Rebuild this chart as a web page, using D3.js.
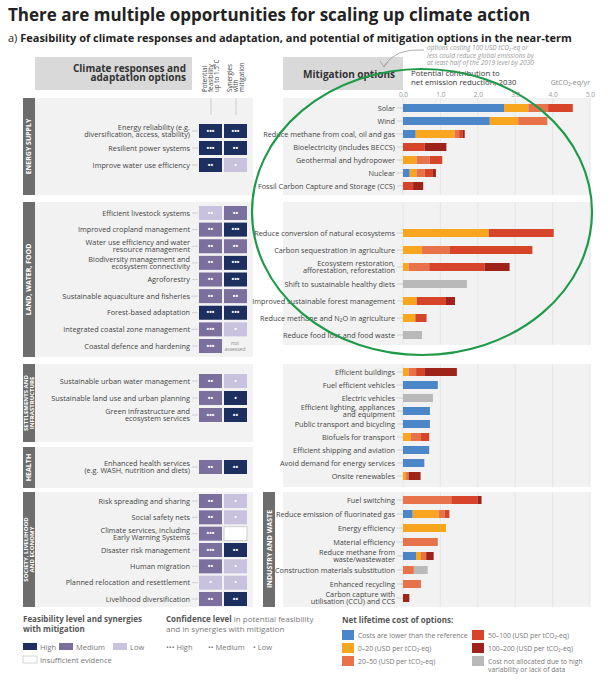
<!DOCTYPE html>
<html><head><meta charset="utf-8">
<script src="https://cdn.jsdelivr.net/npm/d3@7"></script>
<style>
body{margin:0;background:#fff;}
text{font-family:"Liberation Sans Narrow","Open Sans",sans-serif;}
</style></head>
<body><div id="chart"></div>
<script>
// ---- data ----
var costClasses = ["lower", "0-20", "20-50", "50-100", "100-200", "na"];
var costColors = ["#4a86c8", "#f8a51f", "#e8724a", "#d6452a", "#9e2419", "#b9b9b9"];
var costLabels = ["Costs are lower than the reference", "0\u201320 (USD per tCO\u2082-eq)", "20\u201350 (USD per tCO\u2082-eq)",
  "50\u2013100 (USD per tCO\u2082-eq)", "100\u2013200 (USD per tCO\u2082-eq)", "Cost not allocated due to high|variability or lack of data"];

var energyOptions = ["Solar", "Wind", "Reduce methane from coal, oil and gas", "Bioelectricity (includes BECCS)",
  "Geothermal and hydropower", "Nuclear", "Fossil Carbon Capture and Storage (CCS)"];
var energyValues = [
  [2.7, 0.65, 0.53, 0.66, 0, 0], [2.32, 0.76, 0.78, 0, 0, 0], [0.34, 1.04, 0.12, 0.1, 0.05, 0],
  [0, 0, 0, 0.58, 0.58, 0], [0, 0.36, 0.35, 0.34, 0, 0], [0.18, 0.18, 0.22, 0.22, 0.08, 0], [0, 0, 0, 0.27, 0.27, 0]];
var landOptions = ["Reduce conversion of natural ecosystems", "Carbon sequestration in agriculture",
  "Ecosystem restoration,|afforestation, reforestation", "Shift to sustainable healthy diets",
  "Improved sustainable forest management", "Reduce methane and N\u2082O in agriculture", "Reduce food loss and food waste"];
var landValues = [
  [0, 2.29, 0, 1.74, 0, 0], [0, 0.51, 0.73, 2.22, 0, 0], [0, 0.15, 0.55, 1.48, 0.67, 0], [0, 0, 0, 0, 0, 1.71],
  [0, 0.37, 0, 0.78, 0.24, 0], [0, 0.33, 0, 0.3, 0, 0], [0, 0, 0, 0, 0, 0.51]];
var buildOptions = ["Efficient buildings", "Fuel efficient vehicles", "Electric vehicles",
  "Efficient lighting, appliances|and equipment", "Public transport and bicycling", "Biofuels for transport",
  "Efficient shipping and aviation", "Avoid demand for energy services", "Onsite renewables"];
var buildValues = [
  [0, 0.15, 0.2, 0.22, 0.87, 0], [0.93, 0, 0, 0, 0, 0], [0, 0, 0, 0, 0, 0.8], [0.72, 0, 0, 0, 0, 0],
  [0.72, 0, 0, 0, 0, 0], [0, 0.21, 0.27, 0.22, 0, 0], [0.7, 0, 0, 0, 0, 0], [0.57, 0, 0, 0, 0, 0], [0, 0.08, 0.07, 0, 0.32, 0]];
var industryOptions = ["Fuel switching", "Reduce emission of fluorinated gas", "Energy efficiency", "Material efficiency",
  "Reduce methane from|waste/wastewater", "Construction materials substitution", "Enhanced recycling",
  "Carbon capture with|utilisation (CCU) and CCS"];
var industryValues = [
  [0, 0, 1.29, 0.71, 0.1, 0], [0.26, 0.7, 0.15, 0.13, 0, 0], [0, 1.15, 0, 0, 0, 0], [0, 0, 0.93, 0, 0, 0],
  [0.35, 0.13, 0.14, 0, 0.2, 0], [0, 0, 0.29, 0, 0, 0.37], [0, 0, 0.48, 0, 0, 0], [0, 0, 0, 0, 0.17, 0]];
var xTicks = [0, 1, 2, 3, 4, 5];

// feasibility: [level, confidence, level, confidence]  H/M/L, I = insufficient, N = not assessed
var adaptEnergy = ["Energy reliability (e.g.|diversification, access, stability)", "Resilient power systems", "Improve water use efficiency"];
var adaptEnergyFeas = [["H", 3, "H", 3], ["H", 3, "H", 2], ["H", 2, "L", 1]];
var adaptLand = ["Efficient livestock systems", "Improved cropland management", "Water use efficiency and water|resource management",
  "Biodiversity management and|ecosystem connectivity", "Agroforestry", "Sustainable aquaculture and fisheries",
  "Forest-based adaptation", "Integrated coastal zone management", "Coastal defence and hardening"];
var adaptLandFeas = [["L", 2, "M", 2], ["M", 2, "H", 3], ["M", 2, "M", 2], ["M", 2, "H", 3], ["M", 2, "H", 3],
  ["M", 2, "M", 2], ["H", 3, "H", 3], ["M", 3, "L", 1], ["M", 3, "N", 0]];
var adaptSettle = ["Sustainable urban water management", "Sustainable land use and urban planning", "Green infrastructure and|ecosystem services"];
var adaptSettleFeas = [["M", 2, "L", 1], ["M", 2, "H", 1], ["M", 3, "H", 2]];
var adaptHealth = ["Enhanced health services|(e.g. WASH, nutrition and diets)"];
var adaptHealthFeas = [["M", 2, "H", 2]];
var adaptSociety = ["Risk spreading and sharing", "Social safety nets", "Climate services, including|Early Warning Systems",
  "Disaster risk management", "Human migration", "Planned relocation and resettlement", "Livelihood diversification"];
var adaptSocietyFeas = [["M", 2, "L", 1], ["M", 2, "L", 1], ["M", 3, "I", 0], ["M", 3, "H", 2], ["M", 2, "L", 1],
  ["L", 1, "L", 1], ["M", 2, "H", 2]];
var levelColors = {H: "#1d2f5f", M: "#7b6f9e", L: "#c8c2de", I: "#ffffff"};

// ---- drawing ----
var W = 610, H = 680;
var svg = d3.select("#chart").append("svg").attr("width", W).attr("height", H);
var x = d3.scaleLinear().domain([0, 5]).range([403, 590]);

svg.append("text").attr("x", 8).attr("y", 21).attr("font-size", 17).attr("font-weight", "bold")
  .style("font-family", "'Open Sans',sans-serif").attr("fill", "#222").text("There are multiple opportunities for scaling up climate action");
var sub = svg.append("text").attr("x", 8).attr("y", 42).attr("font-size", 11).attr("fill", "#222")
  .style("font-family", "'Open Sans',sans-serif");
sub.append("tspan").text("a) ");
sub.append("tspan").attr("font-weight", "bold").text("Feasibility of climate responses and adaptation, and potential of mitigation options in the near-term");

function multiline(g, label, xx, yy, fs) {
  var parts = label.split("|");
  var t = g.append("text").attr("x", xx).attr("text-anchor", "end").attr("font-size", fs).attr("fill", "#444");
  parts.forEach(function (p, i) {
    t.append("tspan").attr("x", xx).attr("y", yy + fs * 0.35 + (i - (parts.length - 1) / 2) * fs * 0.95).text(p);
  });
  return t;
}

// section backgrounds
var leftSections = [[98, 195, "ENERGY SUPPLY"], [202, 357, "LAND, WATER, FOOD"], [364, 442, "SETTLEMENTS AND|INFRASTRUCTURE"],
  [447, 488, "HEALTH"], [492, 607, "SOCIETY, LIVELIHOOD|AND ECONOMY"]];
leftSections.forEach(function (s) {
  svg.append("rect").attr("x", 23).attr("y", s[0]).attr("width", 230).attr("height", s[1] - s[0]).attr("fill", "#f2f2f2");
  svg.append("rect").attr("x", 23).attr("y", s[0]).attr("width", 12).attr("height", s[1] - s[0]).attr("fill", "#6d6d6d");
  var parts = s[2].split("|");
  var cy = (s[0] + s[1]) / 2;
  var t = svg.append("text").attr("transform", "translate(29," + cy + ") rotate(-90)").attr("text-anchor", "middle")
    .attr("font-size", parts.length > 1 ? 6 : 7).attr("font-weight", "bold").attr("fill", "#fff").style("font-family", "'Open Sans',sans-serif");
  parts.forEach(function (p, i) {
    t.append("tspan").attr("x", 0).attr("y", 2.3 + (i - (parts.length - 1) / 2) * 6).text(p);
  });
});
var rightSections = [[98, 195], [202, 345], [364, 487], [492, 607]];
rightSections.forEach(function (s) {
  svg.append("rect").attr("x", 283).attr("y", s[0]).attr("width", 307).attr("height", s[1] - s[0]).attr("fill", "#f2f2f2");
});
svg.append("rect").attr("x", 263).attr("y", 492).attr("width", 12).attr("height", 115).attr("fill", "#6d6d6d");
svg.append("text").attr("transform", "translate(271.5,549) rotate(-90)").attr("text-anchor", "middle").attr("font-size", 7)
  .attr("font-weight", "bold").attr("fill", "#fff").style("font-family", "'Open Sans',sans-serif").text("INDUSTRY AND WASTE");

// headers
svg.append("rect").attr("x", 35).attr("y", 57).attr("width", 157).attr("height", 33).attr("fill", "#d9d9d9");
multiline(svg, "Climate responses and|adaptation options", 186, 73, 10)
  .attr("font-weight", "bold").attr("fill", "#333").style("font-family", "'Open Sans',sans-serif");
[["Potential|feasibility|up to 1.5\u00b0C", 211], ["Synergies|with|mitigation", 236]].forEach(function (h) {
  var parts = h[0].split("|");
  var t = svg.append("text").attr("transform", "translate(" + h[1] + ",92) rotate(-90)").attr("font-size", 6.3).attr("fill", "#444");
  parts.forEach(function (p, i) { t.append("tspan").attr("x", 0).attr("y", (i - (parts.length - 1) / 2) * 6.3 + 2).text(p); });
  svg.append("line").attr("x1", h[1]).attr("x2", h[1]).attr("y1", 98).attr("y2", 115).attr("stroke", "#ccc");
});
svg.append("rect").attr("x", 283).attr("y", 57).attr("width", 120).attr("height", 33).attr("fill", "#d9d9d9");
svg.append("text").attr("x", 395).attr("y", 78).attr("text-anchor", "end").attr("font-size", 10).attr("font-weight", "bold")
  .attr("fill", "#333").style("font-family", "'Open Sans',sans-serif").text("Mitigation options");
svg.append("text").attr("x", 411).attr("y", 76).attr("font-size", 7.8).attr("fill", "#333").text("Potential contribution to");
svg.append("text").attr("x", 411).attr("y", 85).attr("font-size", 7.8).attr("fill", "#333").text("net emission reduction, 2030");
svg.append("text").attr("x", 590).attr("y", 85).attr("text-anchor", "end").attr("font-size", 7).attr("fill", "#888").text("GtCO\u2082-eq/yr");
["options costing 100 USD tCO\u2082-eq or", "less could reduce global emissions by", "at least half of the 2019 level by 2030"]
  .forEach(function (p, i) {
    svg.append("text").attr("x", 427).attr("y", 50 + i * 7.5).attr("font-size", 6.5).attr("fill", "#999").style("font-style", "italic").text(p);
  });
svg.append("path").attr("d", "M424,50 Q395,48 384,66").attr("fill", "none").attr("stroke", "#999").attr("stroke-width", 0.8);
svg.append("path").attr("d", "M380,61 L384,67 L388,62").attr("fill", "none").attr("stroke", "#999").attr("stroke-width", 0.8);

// axis
var axis = svg.append("g").attr("transform", "translate(0,97)").call(d3.axisTop(x).tickValues(xTicks).tickSize(0).tickPadding(0));
axis.select(".domain").remove();
axis.selectAll("text").attr("font-size", 6.5).attr("fill", "#999");
rightSections.forEach(function (s) {
  svg.selectAll(null).data(xTicks).enter().append("line").attr("x1", x).attr("x2", x).attr("y1", s[0]).attr("y2", s[1])
    .attr("stroke", "#dcdcdc").attr("stroke-width", 0.6);
});

// mitigation bars
function drawMit(opts, vals, y0, y1) {
  var y = d3.scalePoint().domain(opts).range([y0, y1]);
  opts.forEach(function (o, i) {
    var yy = y(o);
    multiline(svg, o, 395, yy, 7.3);
    svg.append("line").attr("x1", 397).attr("x2", 403).attr("y1", yy).attr("y2", yy).attr("stroke", "#bbb").attr("stroke-width", 0.6);
    var acc = 0;
    var segs = vals[i].map(function (v, k) { var s = {k: k, a: acc, b: acc + v}; acc += v; return s; }).filter(function (s) { return s.b > s.a; });
    svg.selectAll(null).data(segs).enter().append("rect").attr("x", function (s) { return x(s.a); })
      .attr("width", function (s) { return x(s.b) - x(s.a); }).attr("y", yy - 4).attr("height", 8)
      .attr("fill", function (s) { return costColors[s.k]; });
  });
}
drawMit(energyOptions, energyValues, 108, 186);
drawMit(landOptions, landValues, 233, 335);
drawMit(buildOptions, buildValues, 372, 476);
drawMit(industryOptions, industryValues, 500, 598);

// feasibility cells
function drawAdapt(opts, feas, y0, y1) {
  var y = opts.length > 1 ? d3.scalePoint().domain(opts).range([y0, y1]) : function () { return y0; };
  opts.forEach(function (o, i) {
    var yy = y(o);
    multiline(svg, o, 190, yy, 7.3);
    svg.append("line").attr("x1", 192).attr("x2", 198).attr("y1", yy).attr("y2", yy).attr("stroke", "#bbb").attr("stroke-width", 0.6);
    [[feas[i][0], feas[i][1], 199], [feas[i][2], feas[i][3], 224]].forEach(function (c) {
      if (c[0] === "N") {
        svg.append("text").attr("x", c[2] + 11).attr("y", yy - 1).attr("text-anchor", "middle").attr("font-size", 5).attr("fill", "#888").text("not");
        svg.append("text").attr("x", c[2] + 11).attr("y", yy + 5).attr("text-anchor", "middle").attr("font-size", 5).attr("fill", "#888").text("assessed");
        return;
      }
      svg.append("rect").attr("x", c[2]).attr("y", yy - 7).attr("width", 23).attr("height", 14).attr("fill", levelColors[c[0]])
        .attr("stroke", c[0] === "I" ? "#ccc" : "none");
      if (c[1] > 0) svg.append("text").attr("x", c[2] + 11.5).attr("y", yy + 2.5).attr("text-anchor", "middle").attr("font-size", 7)
        .attr("font-weight", "bold").attr("fill", "#fff").text("\u2022".repeat(c[1]));
    });
  });
}
drawAdapt(adaptEnergy, adaptEnergyFeas, 131, 165);
drawAdapt(adaptLand, adaptLandFeas, 213, 346);
drawAdapt(adaptSettle, adaptSettleFeas, 381, 415);
drawAdapt(adaptHealth, adaptHealthFeas, 467, 467);
drawAdapt(adaptSociety, adaptSocietyFeas, 501, 599);

// green ellipse
svg.append("ellipse").attr("cx", 422).attr("cy", 212).attr("rx", 170).attr("ry", 143).attr("fill", "none")
  .attr("stroke", "#1f9a48").attr("stroke-width", 2.2);

// legend
var lg = svg.append("g");
lg.append("text").attr("x", 23).attr("y", 622).attr("font-size", 8).attr("font-weight", "bold").attr("fill", "#555").text("Feasibility level and synergies");
lg.append("text").attr("x", 23).attr("y", 632).attr("font-size", 8).attr("font-weight", "bold").attr("fill", "#555").text("with mitigation");
[["H", "High", 23], ["M", "Medium", 59], ["L", "Low", 113]].forEach(function (d) {
  lg.append("rect").attr("x", d[2]).attr("y", 643).attr("width", 14).attr("height", 7).attr("fill", levelColors[d[0]]);
  lg.append("text").attr("x", d[2] + 17).attr("y", 650).attr("font-size", 7.5).attr("fill", "#777").text(d[1]);
});
lg.append("rect").attr("x", 23).attr("y", 656).attr("width", 14).attr("height", 7).attr("fill", "#fff").attr("stroke", "#bbb").attr("stroke-width", 0.6);
lg.append("text").attr("x", 40).attr("y", 663).attr("font-size", 7.5).attr("fill", "#777").text("Insufficient evidence");
var cl = lg.append("text").attr("x", 166).attr("y", 622).attr("font-size", 8).attr("fill", "#777");
cl.append("tspan").attr("font-weight", "bold").attr("fill", "#555").text("Confidence level");
cl.append("tspan").text(" in potential feasibility");
lg.append("text").attr("x", 166).attr("y", 632).attr("font-size", 8).attr("fill", "#777").text("and in synergies with mitigation");
[["\u2022\u2022\u2022 High", 166], ["\u2022\u2022 Medium", 208], ["\u2022 Low", 253]].forEach(function (d) {
  lg.append("text").attr("x", d[1]).attr("y", 650).attr("font-size", 7.5).attr("fill", "#777").text(d[0]);
});
lg.append("text").attr("x", 342).attr("y", 623).attr("font-size", 8).attr("font-weight", "bold").attr("fill", "#555").text("Net lifetime cost of options:");
costClasses.forEach(function (c, i) {
  var lx = i < 3 ? 342 : 472, ly = 630 + (i % 3) * 13;
  lg.append("rect").attr("x", lx).attr("y", ly).attr("width", 12).attr("height", 10).attr("fill", costColors[i]);
  costLabels[i].split("|").forEach(function (p, j) {
    lg.append("text").attr("x", lx + 16).attr("y", ly + 7.5 + j * 8).attr("font-size", 6.8).attr("fill", "#777").text(p);
  });
});
</script></body></html>
